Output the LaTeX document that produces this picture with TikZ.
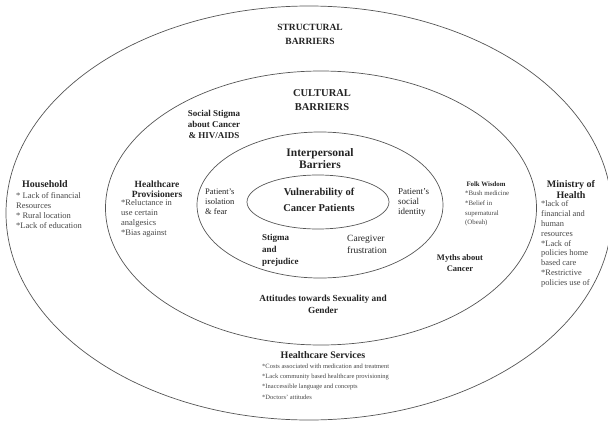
\documentclass[tikz,border=0pt]{standalone}
\usepackage{fontspec}
\setmainfont{Liberation Serif}
\usetikzlibrary{shapes.geometric}
\definecolor{ringgray}{RGB}{85,85,85}
\definecolor{inkgray}{RGB}{35,35,35}
\definecolor{listgray}{RGB}{70,70,70}

\begin{document}
\begin{tikzpicture}[x=1pt,y=-1pt,
  ring/.style={draw=ringgray, line width=0.7pt, ellipse, inner sep=0pt},
  head/.style={font=\bfseries\fontsize{9.5}{10.5}\selectfont, align=center, text=inkgray, inner sep=0pt},
  items/.style={font=\fontsize{8.5}{10}\selectfont, align=left, text=listgray, inner sep=0pt, anchor=west}]
\useasboundingbox (0,0) rectangle (608,423);

% Rings
\node[ring, minimum width=606, minimum height=414] (structural) at (309,213) {};
\node[ring, minimum width=431, minimum height=274] (cultural) at (321,208) {};
\node[ring, minimum width=246, minimum height=146] (interpersonal) at (320,205) {};
\node[ring, minimum width=142, minimum height=54] (core) at (318,202) {};

% Ring titles
\node[head, font=\bfseries\fontsize{9.5}{14}\selectfont] (structtitle) at (310,34) {STRUCTURAL\\BARRIERS};
\node[head, font=\bfseries\fontsize{10.5}{14}\selectfont] (culttitle) at (322,100) {CULTURAL\\BARRIERS};
\node[head, font=\bfseries\fontsize{11.5}{12}\selectfont] (intertitle) at (320,159) {Interpersonal\\Barriers};
\node[head, font=\bfseries\fontsize{10.5}{16.5}\selectfont] (coretitle) at (319,200) {Vulnerability of\\Cancer Patients};

% Interpersonal barriers
\node[items, text=inkgray] (isolation) at (205,202) {Patient's\\isolation\\\& fear};
\node[items, font=\fontsize{9}{10}\selectfont, text=inkgray] (identity) at (398,202) {Patient's\\social\\identity};
\node[items, font=\bfseries\fontsize{9}{12}\selectfont, text=inkgray] (stigma) at (262,250) {Stigma\\and\\prejudice};
\node[items, font=\fontsize{9.5}{12}\selectfont, text=inkgray] (caregiver) at (347,244) {Caregiver\\frustration};

% Cultural barriers
\node[head, font=\bfseries\fontsize{9}{11}\selectfont] (hivstigma) at (214,124) {Social Stigma\\about Cancer\\\& HIV/AIDS};
\node[head] (provhead) at (157,189) {Healthcare\\Provisioners};
\node[items] (provlist) at (121,218.5) {*Reluctance in\\use certain\\analgesics\\*Bias against};
\node[head, font=\bfseries\fontsize{6.8}{10}\selectfont] (folkhead) at (486,184) {Folk Wisdom};
\node[items, font=\fontsize{6.8}{9.8}\selectfont] (folklist) at (465,208.5) {*Bush medicine\\*Belief in\\supernatural\\(Obeah)};
\node[head, font=\bfseries\fontsize{8.5}{10.5}\selectfont] (myths) at (460,263) {Myths about\\Cancer};
\node[head, font=\bfseries\fontsize{9.3}{12}\selectfont] (attitudes) at (323,304) {Attitudes towards Sexuality and\\Gender};

% Structural barriers
\node[head, font=\bfseries\fontsize{10}{11}\selectfont] (household) at (45,184) {Household};
\node[items] (houselist) at (16,211) {* Lack of financial\\Resources\\* Rural location\\*Lack of education};
\node[head, font=\bfseries\fontsize{10}{11.5}\selectfont] (ministry) at (571,189.5) {Ministry of\\Health};
\node[items, font=\fontsize{8.4}{9.8}\selectfont] (ministrylist) at (541,244) {*lack of\\financial and\\human\\resources\\*Lack of\\policies home\\based care\\*Restrictive\\policies use of};
\node[head, font=\bfseries\fontsize{10}{11}\selectfont] (services) at (323,355) {Healthcare Services};
\node[items, font=\fontsize{6.5}{10.3}\selectfont] (servicelist) at (262,381.5) {*Costs associated with medication and treatment\\*Lack community based healthcare provisioning\\*Inaccessible language and concepts\\*Doctors' attitudes};
\end{tikzpicture}
\end{document}
